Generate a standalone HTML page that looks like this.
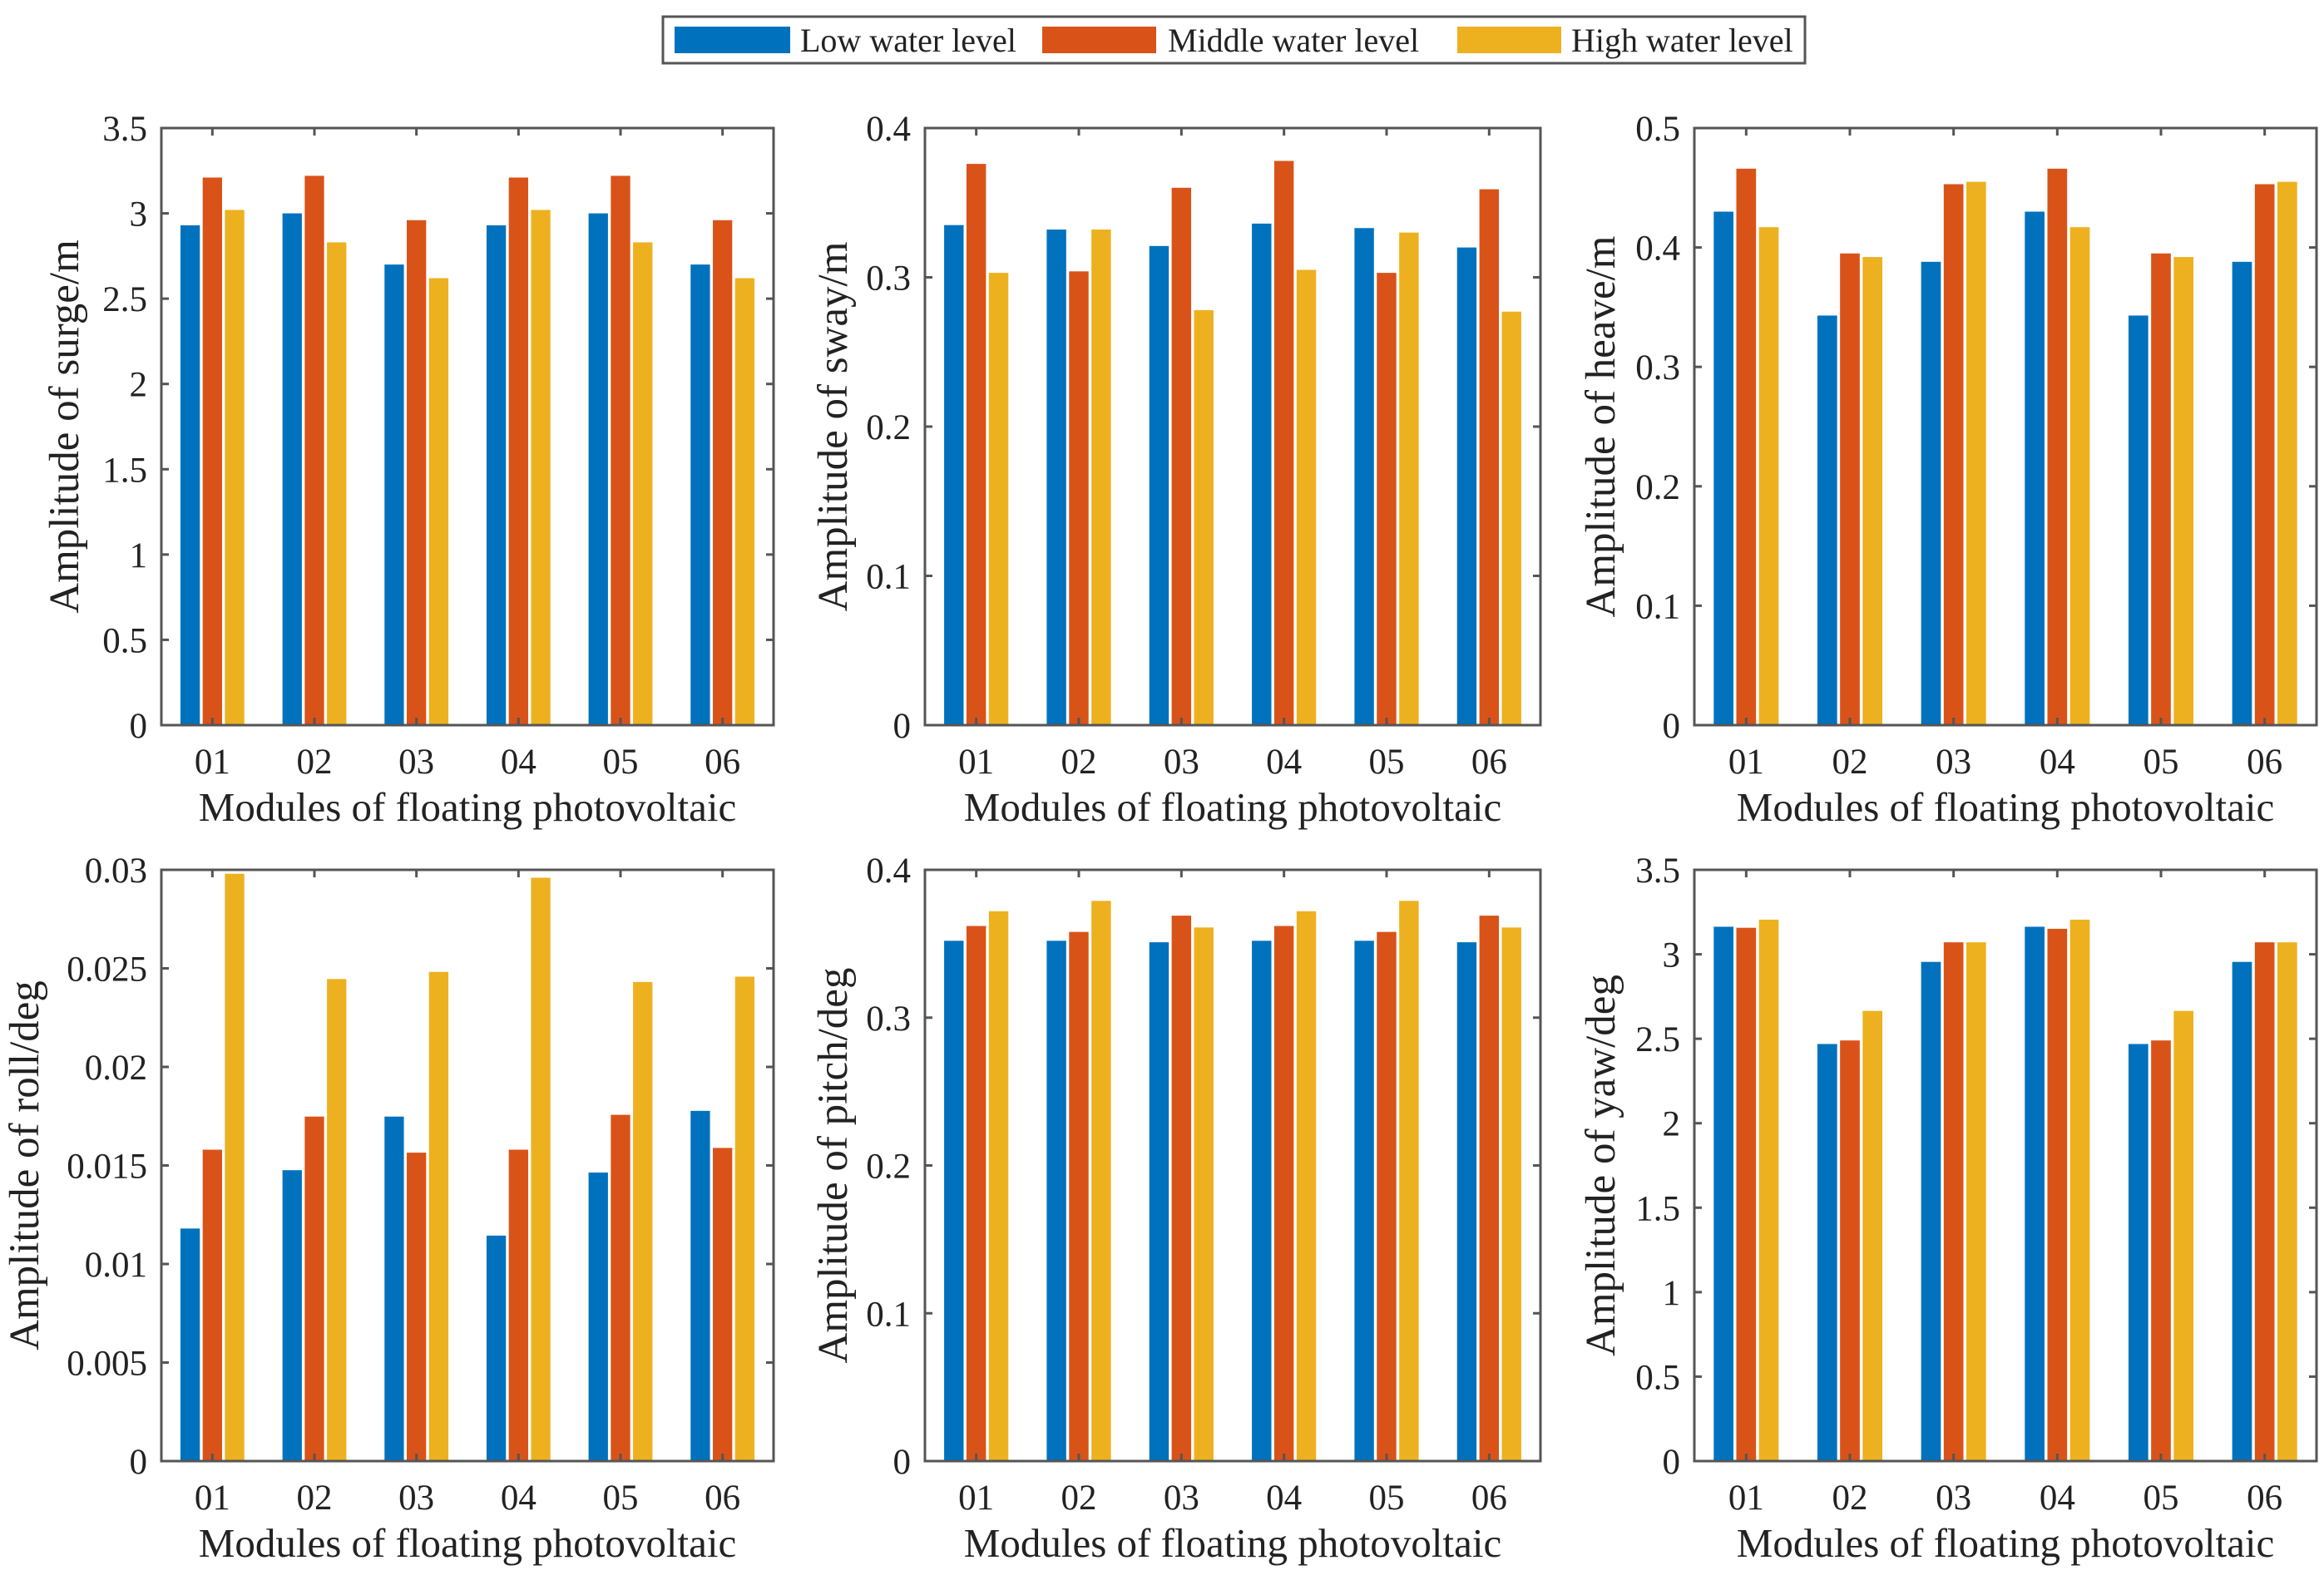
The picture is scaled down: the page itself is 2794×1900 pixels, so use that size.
<!DOCTYPE html>
<html><head><meta charset="utf-8"><style>
html,body{margin:0;padding:0;background:#fff;}
svg{display:block;font-family:"Liberation Serif","Times New Roman",serif;}
</style></head><body>
<svg id="fig" width="2794" height="1900" viewBox="0 0 2794 1900" xmlns="http://www.w3.org/2000/svg">
<g>
<rect x="797" y="20" width="1373" height="56" fill="#fff" stroke="#555" stroke-width="3"/>
<rect x="811" y="32" width="139" height="32" fill="#0072BD"/>
<text x="962" y="62" font-size="40" fill="#222">Low water level</text>
<rect x="1253" y="32" width="137" height="32" fill="#D95319"/>
<text x="1404" y="62" font-size="40" fill="#222">Middle water level</text>
<rect x="1752" y="32" width="125" height="32" fill="#EDB120"/>
<text x="1889" y="62" font-size="40" fill="#222">High water level</text>
</g>
</svg>
<script>
const categories = ["01","02","03","04","05","06"];
const surgeLow  = [2.93,3.0,2.7,2.93,3.0,2.7];
const surgeMid  = [3.21,3.22,2.96,3.21,3.22,2.96];
const surgeHigh = [3.02,2.83,2.62,3.02,2.83,2.62];
const swayLow  = [0.335,0.332,0.321,0.336,0.333,0.320];
const swayMid  = [0.376,0.304,0.360,0.378,0.303,0.359];
const swayHigh = [0.303,0.332,0.278,0.305,0.330,0.277];
const heaveLow  = [0.430,0.343,0.388,0.430,0.343,0.388];
const heaveMid  = [0.466,0.395,0.453,0.466,0.395,0.453];
const heaveHigh = [0.417,0.392,0.455,0.417,0.392,0.455];
const rollLow  = [0.0118,0.01476,0.01748,0.01144,0.01464,0.01777];
const rollMid  = [0.0158,0.01748,0.01565,0.0158,0.01757,0.01589];
const rollHigh = [0.0298,0.02446,0.02482,0.0296,0.02431,0.02458];
const pitchLow  = [0.352,0.352,0.351,0.352,0.352,0.351];
const pitchMid  = [0.362,0.358,0.369,0.362,0.358,0.369];
const pitchHigh = [0.372,0.379,0.361,0.372,0.379,0.361];
const yawLow  = [3.163,2.469,2.955,3.163,2.469,2.955];
const yawMid  = [3.157,2.490,3.071,3.151,2.490,3.071];
const yawHigh = [3.205,2.665,3.071,3.205,2.665,3.071];
const surgeTicks = ["0","0.5","1","1.5","2","2.5","3","3.5"];
const swayTicks = ["0","0.1","0.2","0.3","0.4"];
const heaveTicks = ["0","0.1","0.2","0.3","0.4","0.5"];
const rollTicks = ["0","0.005","0.01","0.015","0.02","0.025","0.03"];
const pitchTicks = ["0","0.1","0.2","0.3","0.4"];
const yawTicks = ["0","0.5","1","1.5","2","2.5","3","3.5"];

const NS = "http://www.w3.org/2000/svg";
const svg = document.getElementById("fig");
const colors = ["#0072BD","#D95319","#EDB120"];
const seriesNames = ["low","middle","high"];
function mk(tag, attrs, parent){
  const e = document.createElementNS(NS, tag);
  for (const k in attrs) e.setAttribute(k, attrs[k]);
  parent.appendChild(e);
  return e;
}
const panels = [
  {key:"surge", label:"Amplitude of surge/m", ticks:surgeTicks, series:[surgeLow,surgeMid,surgeHigh], x0:194, x1:930, y0:154, y1:872, lo:100},
  {key:"sway", label:"Amplitude of sway/m", ticks:swayTicks, series:[swayLow,swayMid,swayHigh], x0:1112, x1:1852, y0:154, y1:872, lo:94},
  {key:"heave", label:"Amplitude of heave/m", ticks:heaveTicks, series:[heaveLow,heaveMid,heaveHigh], x0:2037, x1:2785, y0:154, y1:872, lo:96},
  {key:"roll", label:"Amplitude of roll/deg", ticks:rollTicks, series:[rollLow,rollMid,rollHigh], x0:194, x1:930, y0:1046, y1:1757, lo:148},
  {key:"pitch", label:"Amplitude of pitch/deg", ticks:pitchTicks, series:[pitchLow,pitchMid,pitchHigh], x0:1112, x1:1852, y0:1046, y1:1757, lo:94},
  {key:"yaw", label:"Amplitude of yaw/deg", ticks:yawTicks, series:[yawLow,yawMid,yawHigh], x0:2037, x1:2785, y0:1046, y1:1757, lo:96}
];
panels.forEach(p => {
  const g = mk("g", {}, svg);
  
  
  const ymax = parseFloat(p.ticks[p.ticks.length-1]);
  const yS = v => p.y1 - (v / ymax) * (p.y1 - p.y0);
  const gw = (p.x1 - p.x0) / categories.length;
  const xS = i => p.x0 + gw * (i + 0.5);
  const bw = gw * 0.19, off = gw * 0.218;
  p.series.forEach((s, si) => {
    s.forEach((v, i) => {
      const cx = xS(i) + (si - 1) * off;
      const r = mk("rect", {x: cx - bw/2, y: yS(v), width: bw, height: p.y1 - yS(v), fill: colors[si]}, g);
      
      
    });
  });
  const box = mk("rect", {x:p.x0, y:p.y0, width:p.x1-p.x0, height:p.y1-p.y0, fill:"none", stroke:"#555", "stroke-width":3}, g);
  
  
  p.ticks.forEach(t => {
    const y = yS(parseFloat(t));
    mk("line", {x1:p.x0, x2:p.x0+9, y1:y, y2:y, stroke:"#555", "stroke-width":3}, g);
    mk("line", {x1:p.x1, x2:p.x1-9, y1:y, y2:y, stroke:"#555", "stroke-width":3}, g);
    const tx = mk("text", {x:p.x0-17, y:y+15, "font-size":43, "text-anchor":"end", fill:"#222"}, g);
    tx.textContent = t;
    
    
  });
  categories.forEach((c, i) => {
    const x = xS(i);
    mk("line", {x1:x, x2:x, y1:p.y1, y2:p.y1-9, stroke:"#555", "stroke-width":3}, g);
    mk("line", {x1:x, x2:x, y1:p.y0, y2:p.y0+9, stroke:"#555", "stroke-width":3}, g);
    const tx = mk("text", {x:x, y:p.y1+58, "font-size":43, "text-anchor":"middle", fill:"#222"}, g);
    tx.textContent = c;
    
    
  });
  const xl = mk("text", {x:(p.x0+p.x1)/2, y:p.y1+115, "font-size":49, "text-anchor":"middle", fill:"#222"}, g);
  xl.textContent = "Modules of floating photovoltaic";
  
  
  const yc = (p.y0+p.y1)/2;
  const lx = p.x0 - p.lo;
  const yl = mk("text", {x:lx, y:yc, "font-size":51, "text-anchor":"middle", fill:"#222", transform:"rotate(-90 "+lx+" "+yc+")"}, g);
  yl.textContent = p.label;
  
  
});
</script>
</body></html>
